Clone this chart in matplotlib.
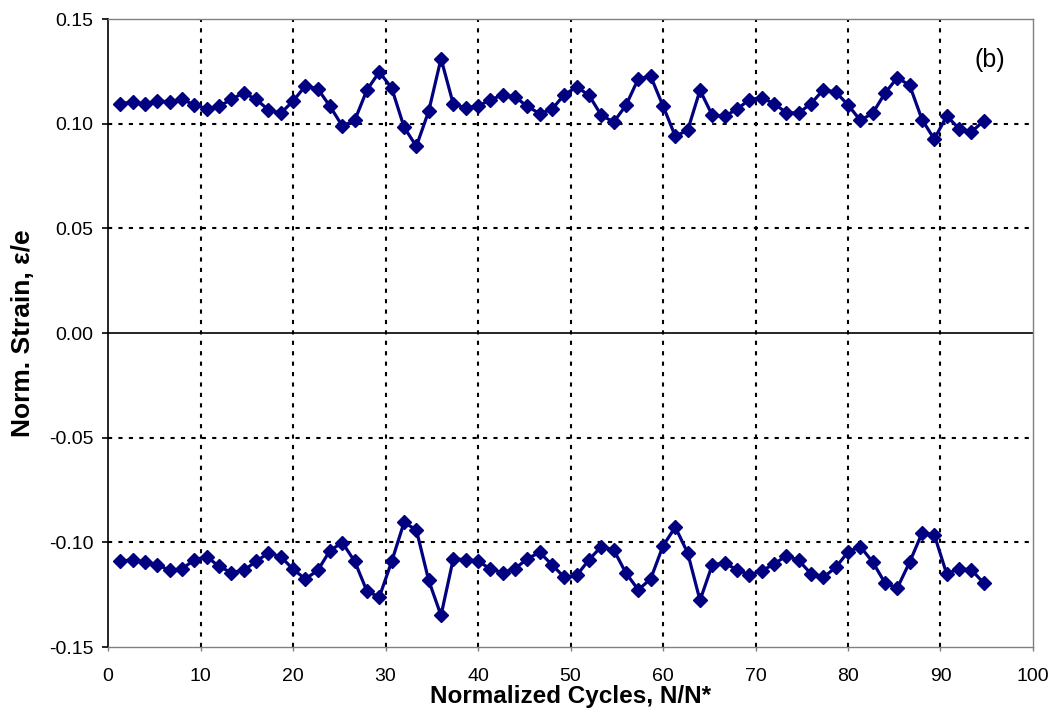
import numpy as np
import matplotlib.pyplot as plt

plt.rcParams['font.family'] = ['Liberation Sans', 'DejaVu Sans']

# normalized cycles N/N*
cycles = [1.33, 2.67, 4.00, 5.33, 6.67, 8.00, 9.33, 10.67, 12.00, 13.33,
          14.67, 16.00, 17.33, 18.67, 20.00, 21.33, 22.67, 24.00, 25.33, 26.67,
          28.00, 29.33, 30.67, 32.00, 33.33, 34.67, 36.00, 37.33, 38.67, 40.00,
          41.33, 42.67, 44.00, 45.33, 46.67, 48.00, 49.33, 50.67, 52.00, 53.33,
          54.67, 56.00, 57.33, 58.67, 60.00, 61.33, 62.67, 64.00, 65.33, 66.67,
          68.00, 69.33, 70.67, 72.00, 73.33, 74.67, 76.00, 77.33, 78.67, 80.00,
          81.33, 82.67, 84.00, 85.33, 86.67, 88.00, 89.33, 90.67, 92.00, 93.33,
          94.67]

strain_max = [0.1096, 0.1103, 0.1092, 0.1108, 0.1105, 0.1116, 0.1090, 0.1072, 0.1083, 0.1116,
              0.1148, 0.1116, 0.1067, 0.1050, 0.1108, 0.1180, 0.1167, 0.1083, 0.0989, 0.1016,
              0.1162, 0.1247, 0.1170, 0.0984, 0.0892, 0.1060, 0.1311, 0.1093, 0.1076, 0.1083,
              0.1115, 0.1136, 0.1128, 0.1083, 0.1048, 0.1069, 0.1139, 0.1175, 0.1136, 0.1040,
              0.1008, 0.1088, 0.1215, 0.1226, 0.1085, 0.0940, 0.0969, 0.1160, 0.1040, 0.1036,
              0.1069, 0.1115, 0.1124, 0.1096, 0.1053, 0.1051, 0.1096, 0.1162, 0.1151, 0.1090,
              0.1016, 0.1050, 0.1146, 0.1220, 0.1183, 0.1020, 0.0926, 0.1037, 0.0977, 0.0961,
              0.1012]

strain_min = [-0.1089, -0.1084, -0.1094, -0.1107, -0.1134, -0.1126, -0.1084, -0.1068, -0.1115, -0.1144,
              -0.1134, -0.1091, -0.1051, -0.1068, -0.1128, -0.1175, -0.1134, -0.1039, -0.1001, -0.1091,
              -0.1234, -0.1261, -0.1091, -0.0905, -0.0940, -0.1182, -0.1349, -0.1078, -0.1083, -0.1088,
              -0.1128, -0.1144, -0.1126, -0.1078, -0.1048, -0.1107, -0.1167, -0.1158, -0.1083, -0.1020,
              -0.1036, -0.1147, -0.1227, -0.1174, -0.1017, -0.0927, -0.1051, -0.1277, -0.1107, -0.1099,
              -0.1131, -0.1155, -0.1136, -0.1104, -0.1064, -0.1086, -0.1150, -0.1167, -0.1120, -0.1046,
              -0.1020, -0.1094, -0.1194, -0.1218, -0.1094, -0.0956, -0.0964, -0.1151, -0.1126, -0.1131,
              -0.1194]

xticks = [0, 10, 20, 30, 40, 50, 60, 70, 80, 90, 100]
yticks = [-0.15, -0.10, -0.05, 0.00, 0.05, 0.10, 0.15]

fig = plt.figure(figsize=(10.53, 7.21), dpi=100)
ax = fig.add_axes([0.1026, 0.1026, 0.8784, 0.871])

navy = '#000080'
for s in (strain_max, strain_min):
    ax.plot(cycles, s, color=navy, lw=2.3, marker='D', ms=7.5, mec=navy, mfc=navy, zorder=3)

ax.set_xlim(0, 100)
ax.set_ylim(-0.15, 0.15)
ax.set_xticks(xticks)
ax.set_yticks(yticks)
ax.set_yticklabels(['%.2f' % v for v in yticks])

# grid
for gx in xticks[1:-1]:
    ax.axvline(gx, color='black', lw=1.5, ls=(0, (2, 3)), zorder=1)
for gy in [-0.10, -0.05, 0.05, 0.10]:
    ax.axhline(gy, color='black', lw=1.5, ls=(0, (2, 3)), zorder=1)
ax.axhline(0, color='black', lw=1.2, zorder=1)

ax.spines['left'].set_color('black')
ax.spines['left'].set_linewidth(1.2)
for side in ('top', 'right', 'bottom'):
    ax.spines[side].set_color('#808080')
    ax.spines[side].set_linestyle((0, (3, 1)))
    ax.spines[side].set_linewidth(1.0)

ax.tick_params(axis='y', direction='out', length=4.5, width=1.2, labelsize=14, pad=6)
ax.tick_params(axis='x', direction='out', length=3, width=1, labelsize=14, pad=12,
               color='#808080')

ax.set_xlabel('Normalized Cycles, N/N*', fontsize=17.5, fontweight='bold', labelpad=0)
ax.set_ylabel('Norm. Strain, ε/e', fontsize=19, fontweight='bold', labelpad=10)

ax.text(0.937, 0.935, '(b)', transform=ax.transAxes, fontsize=18, va='center')

fig.savefig('out.png', dpi=100)
